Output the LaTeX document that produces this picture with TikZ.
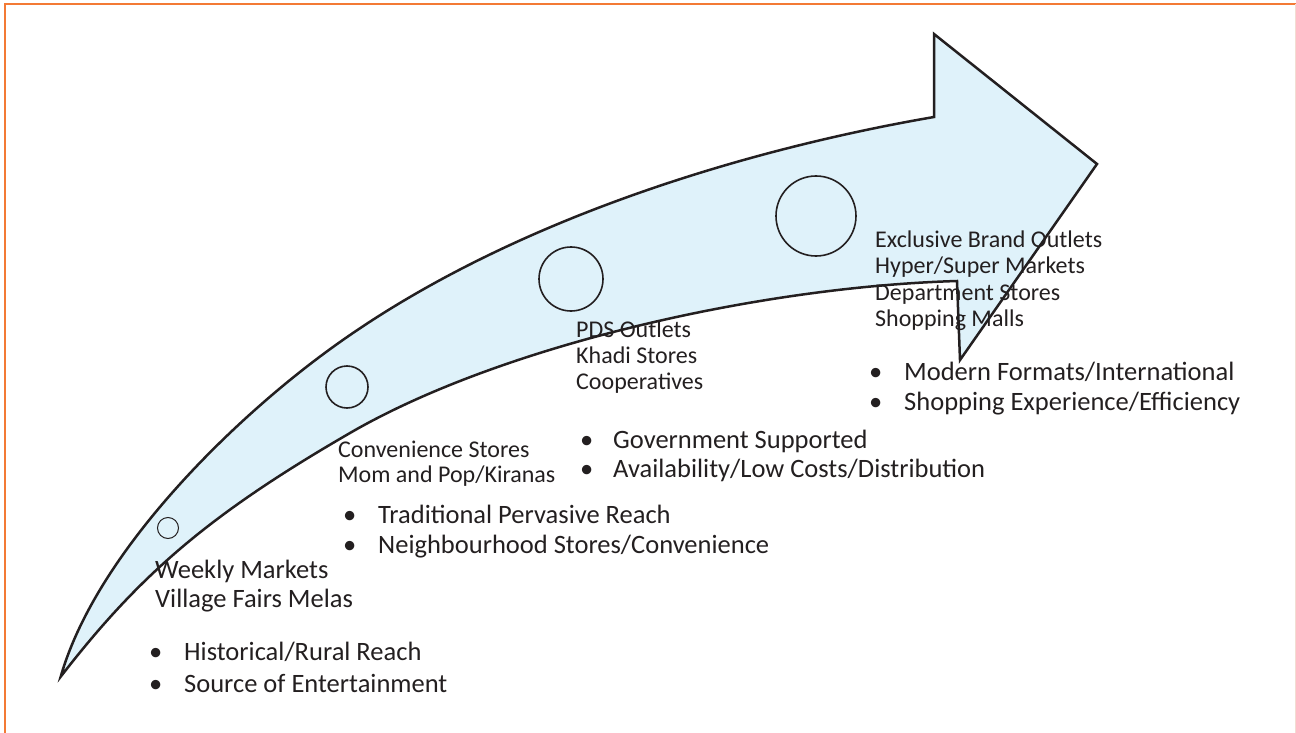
\documentclass[tikz,border=0pt]{standalone}
\usepackage{fontspec}
\setmainfont{Carlito}
\definecolor{ink}{HTML}{231F20}
\definecolor{band}{HTML}{DFF2FA}
\definecolor{frameorange}{HTML}{F37A35}
\definecolor{framepale}{HTML}{F2DDD2}
\begin{document}
\begin{tikzpicture}[x=1pt,y=-1pt,
  txt/.style={anchor=base west,inner sep=0pt,text=ink},
  big/.style={txt,font=\fontsize{26.5}{30}\selectfont},
  small/.style={txt,font=\fontsize{24}{27}\selectfont},
  dot/.style={txt,font=\fontsize{26.5}{30}\selectfont},
  stage/.style={circle,draw=ink,inner sep=0pt,line width=1.6pt}]
\useasboundingbox (0,0) rectangle (1296,733);

% page frame
\draw[frameorange,line width=2.2pt] (5,733) -- (5,4) -- (1296,4);
\draw[framepale,line width=1pt] (1295,4) -- (1295,733);

% curved growth arrow
\coordinate (tail) at (60.7,676.7);
\coordinate (umid) at (333,347);
\coordinate (ubarb) at (934,117);
\coordinate (utop) at (934,34);
\coordinate (tip) at (1097,164);
\coordinate (lbot) at (960,360);
\coordinate (lbarb) at (957,281);
\coordinate (lmid) at (350,433);
\draw[ink,fill=band,line width=2.5pt,line join=miter]
  (tail) .. controls (96.5,552) and (233,419) .. (umid)
         .. controls (513,217) and (754,148) .. (ubarb)
  -- (utop) -- (tip) -- (lbot) -- (lbarb)
         .. controls (757,287) and (500,346) .. (lmid)
         .. controls (210,514) and (140,574) .. (tail)
  -- cycle;

% stage markers
\node[stage,line width=1pt,minimum size=21pt] (c1) at (168,528) {};
\node[stage,minimum size=42pt] (c2) at (347,387) {};
\node[stage,minimum size=64pt] (c3) at (571,279) {};
\node[stage,minimum size=80pt] (c4) at (816,216) {};

% stage 1
\node[big] (w1) at (155,578) {Weekly Markets};
\node[big] (w2) at (155,607) {Village Fairs Melas};
\node[dot] (wb1) at (149,660) {•};
\node[big] (wt1) at (184,660) {Historical/Rural Reach};
\node[dot] (wb2) at (149,692) {•};
\node[big] (wt2) at (184,692) {Source of Entertainment};

% stage 2
\node[small] (k1) at (338,457) {Convenience Stores};
\node[small] (k2) at (338,482) {Mom and Pop/Kiranas};
\node[dot] (kb1) at (343,523) {•};
\node[big] (kt1) at (378,523) {Traditional Pervasive Reach};
\node[dot] (kb2) at (343,553) {•};
\node[big] (kt2) at (378,553) {Neighbourhood Stores/Convenience};

% stage 3
\node[small] (p1) at (576,337) {PDS Outlets};
\node[small] (p2) at (576,363) {Khadi Stores};
\node[small] (p3) at (576,389) {Cooperatives};
\node[dot] (pb1) at (580,448) {•};
\node[big] (pt1) at (613,448) {Government Supported};
\node[dot] (pb2) at (580,477) {•};
\node[big] (pt2) at (613,477) {Availability/Low Costs/Distribution};

% stage 4
\node[small] (m1) at (875,247) {Exclusive Brand Outlets};
\node[small] (m2) at (875,273) {Hyper/Super Markets};
\node[small] (m3) at (875,300) {Department Stores};
\node[small] (m4) at (875,326) {Shopping Malls};
\node[dot] (mb1) at (869,380) {•};
\node[big] (mt1) at (904,380) {Modern Formats/International};
\node[dot] (mb2) at (869,410) {•};
\node[big] (mt2) at (904,410) {Shopping Experience/Efficiency};
\end{tikzpicture}
\end{document}
